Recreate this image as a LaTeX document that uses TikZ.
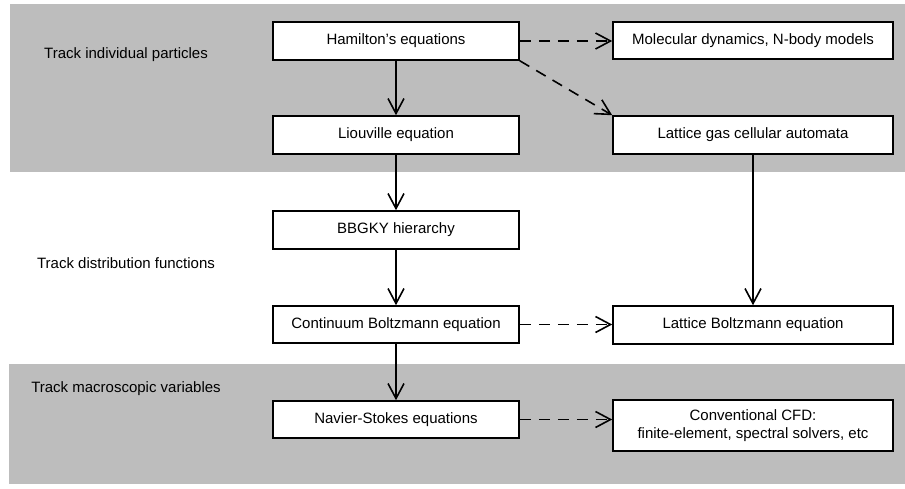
\documentclass[tikz,border=0pt]{standalone}
\usepackage{fontspec}
\setmainfont{Liberation Sans}
\usetikzlibrary{arrows.meta}
\definecolor{bandgray}{RGB}{189,189,189}
\begin{document}
\begin{tikzpicture}[x=1pt,y=-1pt,
  box/.style={draw=black,line width=1.6pt,fill=white,inner sep=0pt,
    font=\fontsize{15}{18}\selectfont,align=center,minimum width=246pt},
  wbox/.style={box,minimum width=280pt},
  lbl/.style={font=\fontsize{15}{18}\selectfont,inner sep=0pt},
  solidarrow/.style={line width=1.6pt,-{Straight Barb[length=15pt,width=16pt]}},
  dasharrow/.style={solidarrow,dash pattern=on 11pt off 8pt}]
\useasboundingbox (0,0) rectangle (905,488);
\fill[white] (0,0) rectangle (905,488);
\fill[bandgray] (10,4) rectangle (905,172);
\fill[bandgray] (9,364) rectangle (905,484);

\node[lbl] (l1) at (126,55) {Track individual particles};
\node[lbl] (l2) at (126,263) {Track distribution functions};
\node[lbl] (l3) at (126,389) {Track macroscopic variables};

\node[box,minimum height=38pt] (ham) at (396,41) {Hamilton’s equations};
\node[box,minimum height=38pt] (liou) at (396,135) {Liouville equation};
\node[box,minimum height=38pt] (bbgky) at (396,230) {BBGKY hierarchy};
\node[box,minimum height=37pt] (cbe) at (396,324.5) {Continuum Boltzmann equation};
\node[box,minimum height=37pt] (ns) at (396,419.5) {Navier-Stokes equations};

\node[wbox,minimum height=37pt] (md) at (753,40.5) {Molecular dynamics, N-body models};
\node[wbox,minimum height=38pt] (lga) at (753,135) {Lattice gas cellular automata};
\node[wbox,minimum height=38pt] (lbe) at (753,325) {Lattice Boltzmann equation};
\node[wbox,minimum height=51pt] (cfd) at (753,425.5) {Conventional CFD:\\finite-element, spectral solvers, etc};

\draw[solidarrow] (ham.south) -- (liou.north);
\draw[solidarrow] (liou.south) -- (bbgky.north);
\draw[solidarrow] (bbgky.south) -- (cbe.north);
\draw[solidarrow] (cbe.south) -- (ns.north);
\draw[solidarrow] (lga.south) -- (lbe.north);

\draw[dasharrow] (ham.east) -- (ham.east -| md.west);
\draw[dasharrow] (ham.south east) -- (lga.north west);
\draw[dasharrow] (cbe.east) -- (cbe.east -| lbe.west);
\draw[dasharrow] (ns.east) -- (ns.east -| cfd.west);
\end{tikzpicture}
\end{document}
